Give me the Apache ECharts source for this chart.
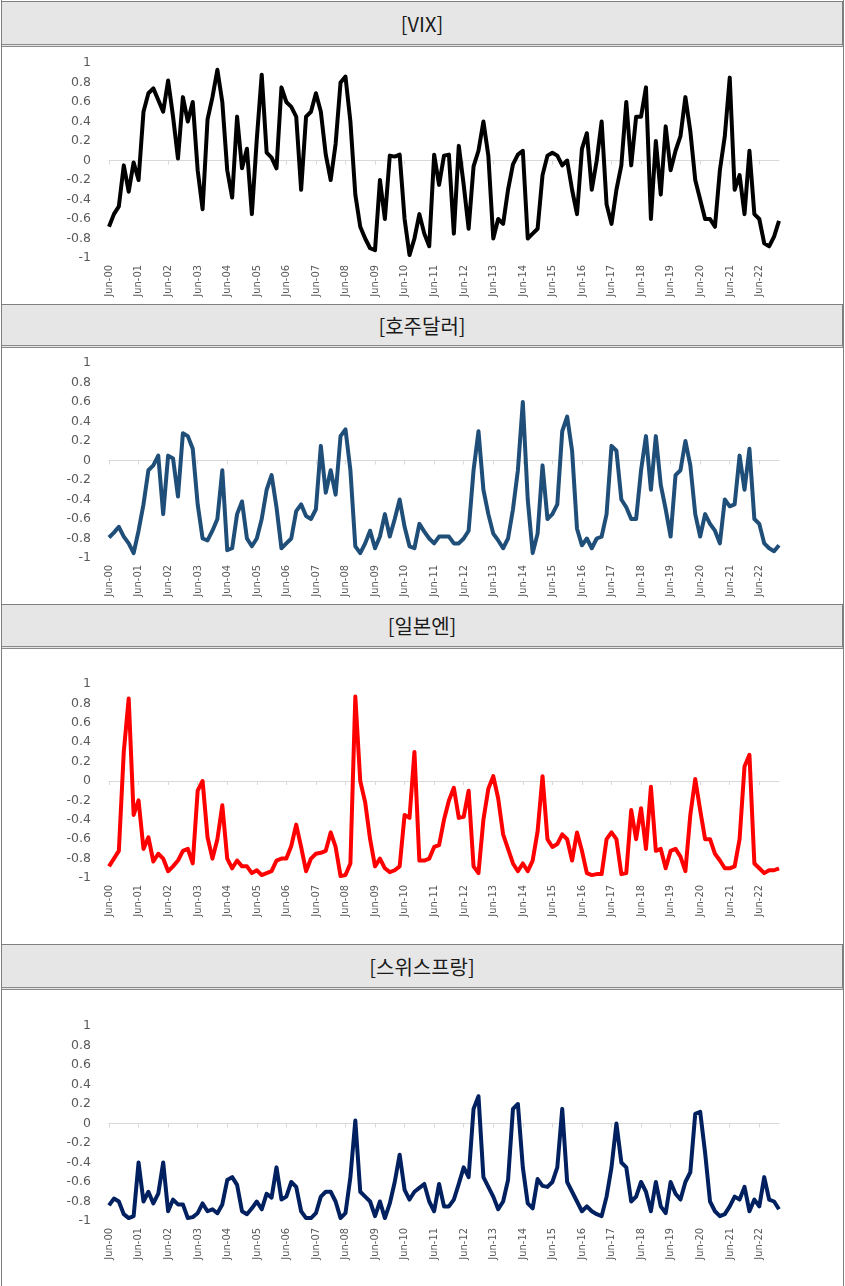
<!DOCTYPE html>
<html>
<head>
<meta charset="utf-8">
<script src="https://cdn.jsdelivr.net/npm/echarts@6/dist/echarts.min.js"></script>
<style>
  html, body { margin:0; padding:0; background:#fff; }
  body { width:845px; height:1286px; position:relative; overflow:hidden; }
  .hdr { position:absolute; left:1px; width:842px; box-sizing:border-box; background:#e6e6e6;
         border-top:1px solid #7f7f7f; border-bottom:3px double #8a8a8a;
         border-left:1px solid #7f7f7f; border-right:1px solid #7f7f7f;
         font-family:'Noto Sans CJK KR','Noto Sans',sans-serif; font-size:20px; color:#1a1a1a;
         display:flex; align-items:center; justify-content:center; }
  .chart { position:absolute; left:0; width:845px; }
  .vline { position:absolute; top:0; height:1286px; width:1px; background:#7f7f7f; z-index:5; }
</style>
</head>
<body>
<div class="hdr" style="top:1px;height:46px;">[VIX]</div>
<div class="chart" id="c1" style="top:47px;height:257px;"></div>
<div class="hdr" style="top:304px;height:44px;">[호주달러]</div>
<div class="chart" id="c2" style="top:348px;height:256px;"></div>
<div class="hdr" style="top:604px;height:45px;">[일본엔]</div>
<div class="chart" id="c3" style="top:649px;height:295px;"></div>
<div class="hdr" style="top:944px;height:46px;">[스위스프랑]</div>
<div class="chart" id="c4" style="top:990px;height:296px;"></div>
<div class="vline" style="left:1px;"></div>
<div class="vline" style="left:843px;"></div>
<script>
// bimonthly observations, Jun-00 .. Feb-23
const monthNames = ['Jun','Aug','Oct','Dec','Feb','Apr'];
const categories = [];
for (let i = 0; i < 137; i++) {
  const m = monthNames[i % 6];
  const yr = 2000 + Math.floor(i / 6) + (i % 6 >= 4 ? 1 : 0);
  categories.push(m + '-' + String(yr % 100).padStart(2, '0'));
}

const vix = [
  -0.68,-0.55,-0.47,-0.05,-0.32,-0.02,-0.2,0.5,0.69,0.74,
  0.62,0.5,0.82,0.45,0.02,0.65,0.4,0.6,-0.1,-0.5,
  0.42,0.65,0.93,0.6,-0.1,-0.38,0.45,-0.08,0.12,-0.55,
  0.22,0.88,0.08,0.03,-0.08,0.75,0.6,0.55,0.45,-0.3,
  0.45,0.5,0.69,0.5,0.06,-0.2,0.17,0.8,0.86,0.4,
  -0.35,-0.68,-0.8,-0.9,-0.92,-0.2,-0.6,0.05,0.04,0.06,
  -0.6,-0.97,-0.8,-0.55,-0.75,-0.88,0.06,-0.25,0.05,0.06,
  -0.75,0.15,-0.25,-0.7,-0.06,0.1,0.4,0.05,-0.8,-0.6,
  -0.65,-0.3,-0.04,0.06,0.1,-0.8,-0.75,-0.7,-0.15,0.05,
  0.08,0.05,-0.05,0,-0.3,-0.55,0.12,0.28,-0.3,0,
  0.4,-0.45,-0.65,-0.3,-0.05,0.6,-0.05,0.45,0.45,0.75,
  -0.6,0.2,-0.35,0.35,-0.1,0.1,0.25,0.65,0.3,-0.2,
  -0.4,-0.6,-0.6,-0.68,-0.1,0.25,0.85,-0.3,-0.15,-0.55,
  0.1,-0.55,-0.6,-0.85,-0.88,-0.78,-0.62
];
const aud = [
  -0.79,-0.74,-0.68,-0.78,-0.85,-0.95,-0.72,-0.45,-0.1,-0.05,
  0.05,-0.55,0.05,0.02,-0.37,0.28,0.25,0.12,-0.45,-0.8,
  -0.82,-0.72,-0.6,-0.1,-0.92,-0.9,-0.55,-0.42,-0.8,-0.88,
  -0.8,-0.6,-0.3,-0.15,-0.48,-0.9,-0.85,-0.8,-0.52,-0.45,
  -0.57,-0.6,-0.5,0.15,-0.33,-0.1,-0.35,0.25,0.32,-0.1,
  -0.88,-0.95,-0.85,-0.72,-0.9,-0.78,-0.55,-0.78,-0.6,-0.4,
  -0.68,-0.88,-0.9,-0.65,-0.73,-0.8,-0.85,-0.78,-0.78,-0.78,
  -0.85,-0.85,-0.8,-0.72,-0.1,0.3,-0.3,-0.55,-0.75,-0.82,
  -0.9,-0.8,-0.5,-0.1,0.6,-0.4,-0.95,-0.75,-0.05,-0.6,
  -0.55,-0.45,0.3,0.45,0.1,-0.7,-0.87,-0.8,-0.9,-0.8,
  -0.78,-0.55,0.15,0.1,-0.4,-0.48,-0.6,-0.6,-0.1,0.25,
  -0.3,0.25,-0.25,-0.5,-0.78,-0.15,-0.1,0.2,-0.05,-0.55,
  -0.78,-0.55,-0.65,-0.72,-0.85,-0.4,-0.47,-0.45,0.05,-0.3,
  0.12,-0.6,-0.65,-0.85,-0.9,-0.93,-0.87
];
const jpy = [
  -0.88,-0.8,-0.72,0.3,0.85,-0.35,-0.2,-0.7,-0.58,-0.83,
  -0.75,-0.8,-0.93,-0.88,-0.82,-0.72,-0.7,-0.85,-0.1,0,
  -0.58,-0.8,-0.6,-0.25,-0.8,-0.9,-0.82,-0.88,-0.88,-0.95,
  -0.92,-0.97,-0.95,-0.93,-0.82,-0.8,-0.8,-0.67,-0.45,-0.68,
  -0.93,-0.8,-0.75,-0.74,-0.72,-0.53,-0.68,-0.98,-0.97,-0.85,
  0.87,0,-0.22,-0.6,-0.88,-0.8,-0.9,-0.94,-0.92,-0.88,
  -0.35,-0.38,0.3,-0.82,-0.82,-0.8,-0.68,-0.66,-0.4,-0.2,
  -0.07,-0.38,-0.37,-0.1,-0.88,-0.95,-0.4,-0.08,0.05,-0.18,
  -0.55,-0.7,-0.85,-0.93,-0.85,-0.93,-0.82,-0.52,0.05,-0.6,
  -0.68,-0.65,-0.55,-0.6,-0.82,-0.53,-0.72,-0.95,-0.97,-0.96,
  -0.96,-0.6,-0.53,-0.6,-0.96,-0.95,-0.3,-0.6,-0.28,-0.7,
  -0.06,-0.72,-0.7,-0.9,-0.72,-0.7,-0.78,-0.93,-0.35,0.02,
  -0.3,-0.6,-0.6,-0.75,-0.82,-0.9,-0.9,-0.88,-0.6,0.15,
  0.27,-0.85,-0.9,-0.95,-0.92,-0.92,-0.9
];
const chf = [
  -0.84,-0.77,-0.8,-0.93,-0.97,-0.95,-0.4,-0.8,-0.7,-0.82,
  -0.72,-0.4,-0.9,-0.78,-0.83,-0.83,-0.97,-0.96,-0.92,-0.82,
  -0.9,-0.88,-0.92,-0.83,-0.58,-0.55,-0.63,-0.9,-0.93,-0.87,
  -0.8,-0.88,-0.72,-0.76,-0.45,-0.78,-0.75,-0.6,-0.65,-0.9,
  -0.97,-0.97,-0.92,-0.75,-0.7,-0.7,-0.8,-0.97,-0.92,-0.55,
  0.03,-0.7,-0.75,-0.8,-0.95,-0.8,-0.97,-0.82,-0.6,-0.32,
  -0.68,-0.78,-0.7,-0.66,-0.62,-0.8,-0.9,-0.62,-0.85,-0.85,
  -0.78,-0.62,-0.45,-0.55,0.15,0.28,-0.55,-0.65,-0.75,-0.88,
  -0.8,-0.58,0.15,0.2,-0.45,-0.82,-0.87,-0.57,-0.64,-0.65,
  -0.6,-0.45,0.15,-0.6,-0.7,-0.8,-0.9,-0.85,-0.9,-0.93,
  -0.95,-0.75,-0.45,0,-0.4,-0.45,-0.8,-0.75,-0.6,-0.7,
  -0.9,-0.6,-0.85,-0.92,-0.6,-0.72,-0.78,-0.6,-0.5,0.1,
  0.12,-0.3,-0.8,-0.9,-0.95,-0.93,-0.85,-0.75,-0.78,-0.65,
  -0.9,-0.78,-0.85,-0.55,-0.78,-0.8,-0.88
];
const yTickLabels = ['-1','-0.8','-0.6','-0.4','-0.2','0','0.2','0.4','0.6','0.8','1'];

const labelFont = "'DejaVu Sans Condensed','Liberation Sans Narrow','DejaVu Sans',sans-serif";

function makeChart(id, gridTop, gridHeight, values, color) {
  const chart = echarts.init(document.getElementById(id), null, {renderer: 'canvas'});
  chart.setOption({
    animation: false,
    grid: { left: 109, width: 670, top: gridTop, height: gridHeight },
    xAxis: [
      { type: 'category', data: categories, boundaryGap: false, position: 'bottom',
        axisLine: { show: false, onZero: false }, axisTick: { show: false },
        axisLabel: { interval: 5, rotate: 90, margin: 7, color: '#595959',
                     fontSize: 11, fontFamily: labelFont } },
      { type: 'category', data: categories, boundaryGap: false, position: 'bottom',
        axisLine: { show: true, onZero: true, lineStyle: { color: '#d9d9d9', width: 1 } },
        axisTick: { show: true, interval: 5, length: 4, lineStyle: { color: '#d9d9d9' } },
        axisLabel: { show: false } }
    ],
    yAxis: {
      type: 'value', min: -1, max: 1, interval: 0.2,
      axisLine: { show: false }, axisTick: { show: false }, splitLine: { show: false },
      axisLabel: { margin: 18, color: '#595959', fontSize: 12.5,
                   fontFamily: "'DejaVu Sans',sans-serif",
                   formatter: v => yTickLabels[Math.round((v + 1) / 0.2)] }
    },
    series: [{
      type: 'line', xAxisIndex: 0, data: values, showSymbol: false, symbol: 'none',
      lineStyle: { color: color, width: 4, join: 'round' }, z: 3
    }]
  });
}

makeChart('c1', 16, 195, vix, '#000000');
makeChart('c2', 15, 195, aud, '#1f4e79');
makeChart('c3', 35, 194, jpy, '#ff0000');
makeChart('c4', 36, 195, chf, '#002060');
</script>
</body>
</html>
